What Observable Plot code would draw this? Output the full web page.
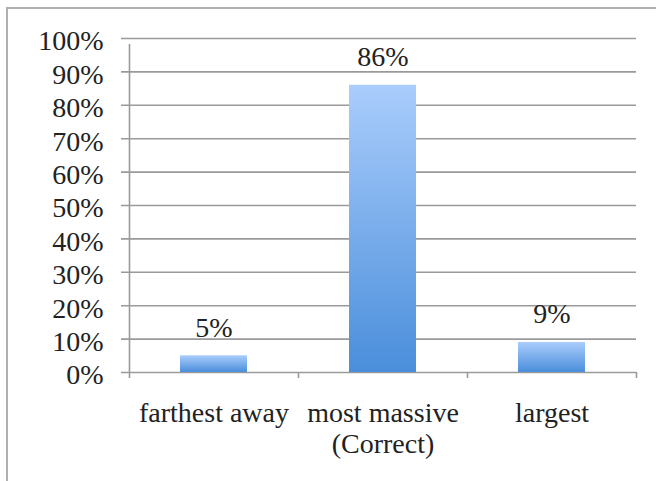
<!DOCTYPE html>
<html>
<head>
<meta charset="utf-8">
<script src="https://cdn.jsdelivr.net/npm/d3@7"></script>
<script src="https://cdn.jsdelivr.net/npm/@observablehq/plot@0.6"></script>
<style>
  html, body { margin: 0; padding: 0; background: #fff; overflow: hidden; }
  #wrap { position: relative; width: 656px; height: 481px; }
  #frame { position: absolute; left: 6px; top: 7px; width: 700px; height: 600px;
           border-left: 2.5px solid #b0b0b0; border-top: 2.5px solid #b0b0b0; }
  #chart { position: absolute; left: 0; top: 0; }
  #chart svg { font-family: "Liberation Serif", serif; }
</style>
</head>
<body>
<div id="wrap"><div id="frame"></div><div id="chart"></div></div>
<script>
const categories = ["farthest away", "most massive\n(Correct)", "largest"];
const values = [5, 86, 9];
const yTicks = [0, 10, 20, 30, 40, 50, 60, 70, 80, 90, 100];

const data = categories.map((c, i) => ({cat: c, value: values[i]}));

const W = 656, H = 481, ML = 129, MR = 20, MT = 38, MB = 109;
const step = (W - ML - MR) / categories.length;
const grid = "#9a9a9a";
const FS = 28;

const plot = Plot.plot({
  width: W,
  height: H,
  marginLeft: ML,
  marginRight: MR,
  marginTop: MT,
  marginBottom: MB,
  style: {fontFamily: "'Liberation Serif', serif", fontSize: FS + "px", color: "#222", background: "transparent"},
  x: {domain: categories, padding: 0, label: null},
  y: {domain: [0, 100], label: null},
  marks: [
    () => {
      const svg = d3.create("svg:defs");
      const g = svg.append("linearGradient").attr("id", "barGrad")
        .attr("x1", 0).attr("y1", 0).attr("x2", 0).attr("y2", 1);
      g.append("stop").attr("offset", "0%").attr("stop-color", "#aacdfc");
      g.append("stop").attr("offset", "100%").attr("stop-color", "#4a8edb");
      return svg.node();
    },
    Plot.ruleY(yTicks, {y: d => d, stroke: grid, strokeWidth: 1.6, insetLeft: -8}),
    Plot.ruleX([0], {x: () => categories[0], dx: -step / 2, y1: 0, y2: 100, stroke: grid, strokeWidth: 1.6, insetBottom: -6}),
    Plot.ruleX(categories, {x: d => d, dx: -step / 2, y1: 0, y2: 0, stroke: grid, strokeWidth: 1.6, insetBottom: -6}),
    Plot.ruleX([categories[categories.length - 1]], {x: d => d, dx: step / 2, y1: 0, y2: 0, stroke: grid, strokeWidth: 1.6, insetBottom: -6}),
    Plot.barY(data, {x: "cat", y: "value", fill: "url(#barGrad)", insetLeft: 51, insetRight: 51}),
    Plot.text(data, {x: "cat", y: "value", text: d => d.value + "%", lineAnchor: "bottom", dy: -19, fill: "#222", fontSize: FS}),
    Plot.axisY(yTicks, {tickSize: 0, tickPadding: 26, dy: 3, tickFormat: d => d + "%", fontSize: FS, fill: "#222", label: null}),
    Plot.axisX({tickSize: 0, tickPadding: 27, fontSize: FS, lineHeight: 1.12, fill: "#222", label: null})
  ]
});

document.getElementById("chart").appendChild(plot);
</script>
</body>
</html>
